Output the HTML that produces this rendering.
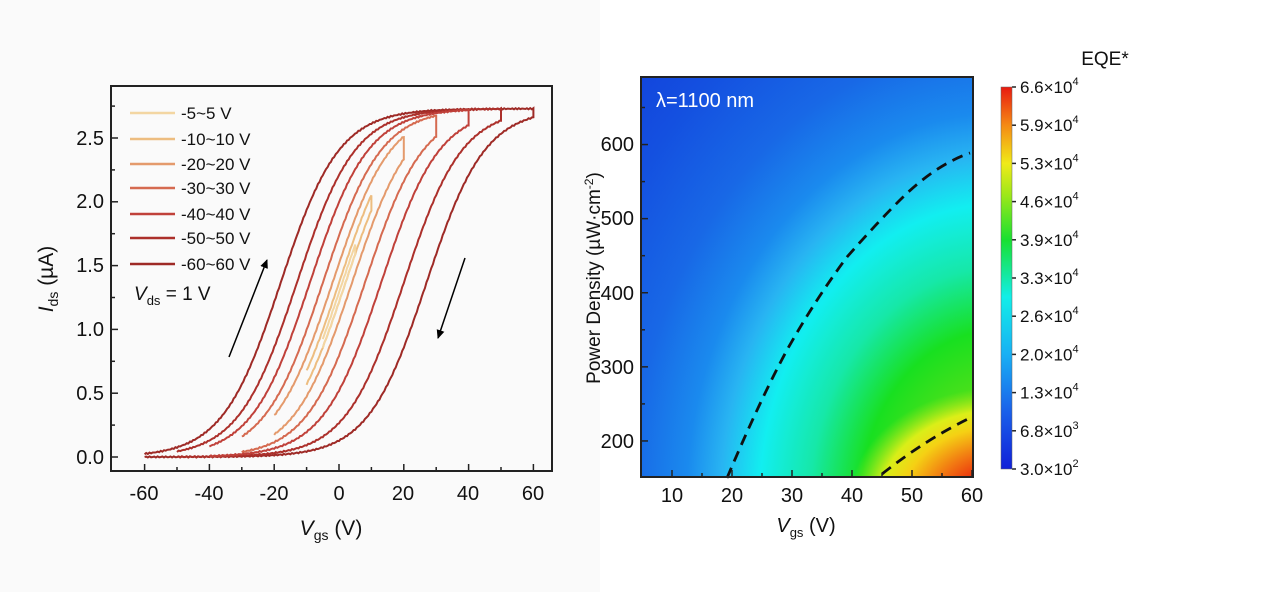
<!DOCTYPE html>
<html><head><meta charset="utf-8"><style>
body{margin:0;width:1270px;height:592px;background:#fff;overflow:hidden}
svg{display:block}
text{font-family:"Liberation Sans",sans-serif;fill:#111}
</style></head><body>
<svg id="s" width="1270" height="592" viewBox="0 0 1270 592">
<rect x="0" y="0" width="600" height="592" fill="#fafafa"/>
<defs>
<radialGradient id="hm" gradientUnits="userSpaceOnUse" cx="1000" cy="505" r="700" gradientTransform="translate(1000 505) scale(0.8 1) translate(-1000 -505)">
<stop offset="0" stop-color="#a8e818"/>
<stop offset="0.13" stop-color="#60e018"/>
<stop offset="0.25" stop-color="#18e020"/>
<stop offset="0.34" stop-color="#16e8a8"/>
<stop offset="0.43" stop-color="#12eef0"/>
<stop offset="0.5" stop-color="#28b4f2"/>
<stop offset="0.56" stop-color="#1a8aee"/>
<stop offset="0.66" stop-color="#1868e6"/>
<stop offset="0.8" stop-color="#1450e0"/>
<stop offset="0.9" stop-color="#1244dc"/>
</radialGradient>
<radialGradient id="hot" gradientUnits="userSpaceOnUse" cx="1000" cy="500" r="150" gradientTransform="translate(1000 500) scale(1 0.75) translate(-1000 -500)">
<stop offset="0.2" stop-color="#e8160c" stop-opacity="1"/>
<stop offset="0.45" stop-color="#f27a12" stop-opacity="1"/>
<stop offset="0.65" stop-color="#f5d014" stop-opacity="1"/>
<stop offset="0.8" stop-color="#eaf018" stop-opacity="0.9"/>
<stop offset="1" stop-color="#a8e818" stop-opacity="0"/>
</radialGradient>
<linearGradient id="cb" x1="0" y1="1" x2="0" y2="0">
<stop offset="0" stop-color="#1020d8"/>
<stop offset="0.15" stop-color="#1a60ea"/>
<stop offset="0.3" stop-color="#18b0f4"/>
<stop offset="0.45" stop-color="#12eee8"/>
<stop offset="0.6" stop-color="#18e030"/>
<stop offset="0.72" stop-color="#a0e818"/>
<stop offset="0.8" stop-color="#f0ea18"/>
<stop offset="0.9" stop-color="#f58a14"/>
<stop offset="1" stop-color="#e81a10"/>
</linearGradient>
<clipPath id="pc"><rect x="641" y="77" width="332" height="400"/></clipPath>
<marker id="ah" markerWidth="10" markerHeight="10" refX="8" refY="5" orient="auto" markerUnits="userSpaceOnUse"><path d="M0,1 L9,5 L0,9 z" fill="#000"/></marker>
</defs>

<!-- Left plot -->
<g id="curves"></g>
<rect x="111" y="86" width="441" height="385" fill="none" stroke="#222" stroke-width="2"/>
<g id="lt" stroke="#222" stroke-width="1.5"></g>
<g font-size="20" text-anchor="end">
<text x="104" y="464">0.0</text><text x="104" y="400">0.5</text><text x="104" y="336">1.0</text>
<text x="104" y="272">1.5</text><text x="104" y="208">2.0</text><text x="104" y="145">2.5</text>
</g>
<g font-size="20" text-anchor="middle">
<text x="144" y="500">-60</text><text x="209" y="500">-40</text><text x="274" y="500">-20</text>
<text x="339" y="500">0</text><text x="403" y="500">20</text><text x="468" y="500">40</text><text x="533" y="500">60</text>
</g>
<text font-size="21" text-anchor="middle" transform="translate(53 279) rotate(-90)"><tspan font-style="italic">I</tspan><tspan font-size="14" dy="5">ds</tspan><tspan dy="-5"> (µA)</tspan></text>
<text x="331" y="535" font-size="21" text-anchor="middle"><tspan font-style="italic">V</tspan><tspan font-size="14" dy="5">gs</tspan><tspan dy="-5"> (V)</tspan></text>
<g id="leg" font-size="17"></g>
<text x="134" y="300" font-size="19"><tspan font-style="italic">V</tspan><tspan font-size="13" dy="5">ds</tspan><tspan dy="-5"> = 1 V</tspan></text>
<line x1="229" y1="357" x2="267" y2="260" stroke="#000" stroke-width="1.5" marker-end="url(#ah)"/>
<line x1="465" y1="258" x2="438" y2="338" stroke="#000" stroke-width="1.5" marker-end="url(#ah)"/>

<!-- Right plot -->
<g clip-path="url(#pc)">
<rect x="641" y="77" width="332" height="400" fill="url(#hm)"/>
<rect x="641" y="77" width="332" height="400" fill="url(#hot)"/>
</g>
<path d="M727,478 Q760,400 787,350 Q815,300 847,257 Q875,225 900,200 Q935,165 970,153" fill="none" stroke="#111" stroke-width="2.8" stroke-dasharray="11,7"/>
<path d="M882,474 Q925,440 968,419" fill="none" stroke="#111" stroke-width="2.8" stroke-dasharray="11,7"/>
<rect x="641" y="77" width="332" height="400" fill="none" stroke="#222" stroke-width="2"/>
<g id="rt" stroke="#222" stroke-width="1.5"></g>
<text x="656" y="107" font-size="20" style="fill:#fff">λ=1100 nm</text>
<g font-size="20" text-anchor="end">
<text x="634" y="448">200</text><text x="634" y="374">300</text><text x="634" y="300">400</text>
<text x="634" y="225">500</text><text x="634" y="151">600</text>
</g>
<g font-size="20" text-anchor="middle">
<text x="672" y="502">10</text><text x="732" y="502">20</text><text x="792" y="502">30</text>
<text x="852" y="502">40</text><text x="912" y="502">50</text><text x="972" y="502">60</text>
</g>
<text font-size="19" text-anchor="middle" transform="translate(600 278) rotate(-90)">Power Density (µW·cm<tspan font-size="12" dy="-7">-2</tspan><tspan dy="7">)</tspan></text>
<text x="806" y="532" font-size="20" text-anchor="middle"><tspan font-style="italic">V</tspan><tspan font-size="13" dy="5">gs</tspan><tspan dy="-5"> (V)</tspan></text>

<!-- Colorbar -->
<rect x="1001" y="87" width="11" height="382" fill="url(#cb)" stroke="#666" stroke-width="0.5"/>
<text x="1105" y="65" font-size="19" text-anchor="middle">EQE*</text>
<g id="cbl" font-size="17"></g>
</svg>
<script>
var NS="http://www.w3.org/2000/svg";
function el(p,t,a,txt){var e=document.createElementNS(NS,t);for(var k in a)e.setAttribute(k,a[k]);if(txt!==undefined)e.textContent=txt;document.getElementById(p).appendChild(e);return e;}
function X(v){return 339+v*3.24;} function Y(i){return 457-i*127.6;}
var sets=[[60,-18,27,"#9e2a26"],[50,-13,20,"#ac302b"],[40,-9,13,"#c0413a"],[30,-5,8,"#d56a50"],[20,-2,4,"#e49a6c"],[10,0,2,"#edbd80"],[5,1,2,"#f3d6a2"]];
var w=9;
function I(v,c){return 2.73/(1+Math.exp(-(v-c)/w));}
sets.forEach(function(s){
 var A=s[0],d="";
 for(var v=-A;v<=A+0.01;v+=0.5){d+=(d?"L":"M")+X(v).toFixed(1)+","+(Y(I(v,s[1]))+Math.sin(v*7)*0.6).toFixed(1);}
 for(var v=A;v>=-A-0.01;v-=0.5){d+="L"+X(v).toFixed(1)+","+(Y(I(v,s[2]))+Math.cos(v*5)*0.6).toFixed(1);}
 el("curves","path",{d:d,fill:"none",stroke:s[3],"stroke-width":2});
});
for(var v=-60;v<=60;v+=10){var big=v%20==0;el("lt","line",{x1:X(v),y1:471,x2:X(v),y2:big?464:467});}
for(var i=0;i<=2.75;i+=0.25){var big=Math.abs(i*2-Math.round(i*2))<0.01;el("lt","line",{x1:111,y1:Y(i),x2:big?118:115,y2:Y(i)});}
var labs=["-5~5 V","-10~10 V","-20~20 V","-30~30 V","-40~40 V","-50~50 V","-60~60 V"];
var cols=["#f3d6a2","#edbd80","#e49a6c","#d56a50","#c0413a","#ac302b","#9e2a26"];
var ys=[113,139,164,188,214,238,264];
for(var k=0;k<7;k++){el("leg","line",{x1:130,y1:ys[k],x2:175,y2:ys[k],stroke:cols[k],"stroke-width":2.5});el("leg","text",{x:181,y:ys[k]+6},labs[k]);}
function RX(v){return 642+(v-5)*6;} function RY(p){return 478-(p-150)*0.741;}
for(var v=10;v<=60;v+=5){el("rt","line",{x1:RX(v),y1:477,x2:RX(v),y2:v%10==0?470:473});}
for(var p=200;p<=650;p+=50){el("rt","line",{x1:641,y1:RY(p),x2:p%100==0?648:645,y2:RY(p)});}
var cl=[["6.6","4"],["5.9","4"],["5.3","4"],["4.6","4"],["3.9","4"],["3.3","4"],["2.6","4"],["2.0","4"],["1.3","4"],["6.8","3"],["3.0","2"]];
for(var k=0;k<11;k++){var y=87+k*38.2;el("rt","line",{x1:1012,y1:y,x2:1016,y2:y});
 var t=el("cbl","text",{x:1020,y:y+6});t.textContent=cl[k][0]+"×10";var sp=document.createElementNS(NS,"tspan");sp.setAttribute("font-size","11");sp.setAttribute("dy","-8");sp.textContent=cl[k][1];t.appendChild(sp);}
</script>
</body></html>
